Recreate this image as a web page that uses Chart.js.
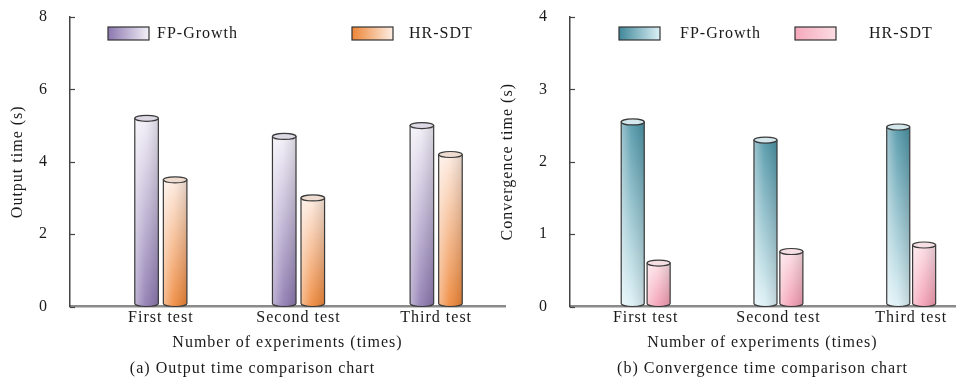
<!DOCTYPE html>
<html>
<head>
<meta charset="utf-8">
<script src="https://cdn.jsdelivr.net/npm/chart.js"></script>
<style>
  html, body { margin: 0; padding: 0; background: #fff; }
  #wrap { position: relative; width: 956px; height: 381px; overflow: hidden; }
  #wrap canvas { position: absolute; top: 0; }
</style>
</head>
<body>
<div id="wrap">
  <canvas id="chart-a" width="520" height="381" style="left:0"></canvas>
  <canvas id="chart-b" width="466" height="381" style="left:490px"></canvas>
</div>
<script>
// DATA
var categories   = ['First test', 'Second test', 'Third test'];
var seriesNames  = ['FP-Growth', 'HR-SDT'];
var outputFP     = [5.2, 4.7, 5.0];    // output time (s)
var outputHR     = [3.5, 3.0, 4.2];
var convFP       = [2.55, 2.3, 2.48];  // convergence time (s)
var convHR       = [0.6, 0.76, 0.85];
var outputTicks  = [0, 2, 4, 6, 8];
var convTicks    = [0, 1, 2, 3, 4];

Chart.defaults.font.family = "'Liberation Serif', 'Times New Roman', serif";
Chart.defaults.color = '#1a1a1a';

// cylinder colours (top of bar -> bottom of bar)
var purple = { top: '#f1eef7', bottom: '#8b77af', cap: '#dcd8e4', dark: '#8b77af', light: '#f3f0f8' };
var orange = { top: '#fdeadf', bottom: '#ee8536', cap: '#efdcd0', dark: '#ee8536', light: '#fdeee4' };
var teal   = { top: '#4b93a5', bottom: '#dcf1f6', cap: '#d3e7ec', dark: '#3f8799', light: '#dcf1f6' };
var pink   = { top: '#fcdde4', bottom: '#f39ab0', cap: '#f6dfe4', dark: '#f5a9bb', light: '#fcdce3' };

function drawCylinder(ctx, el, st){
  var p = el.getProps(['x', 'y', 'base', 'width'], true);
  var rx = p.width / 2, ry = 3;
  var l = p.x - rx, r = p.x + rx;
  var top = Math.min(p.y, p.base), bot = Math.max(p.y, p.base);
  ctx.save();
  ctx.beginPath();
  ctx.moveTo(l, top);
  ctx.lineTo(l, bot - ry);
  ctx.ellipse(p.x, bot - ry, rx, ry, 0, Math.PI, 0, true);
  ctx.lineTo(r, top);
  ctx.closePath();
  var g = ctx.createLinearGradient(0, top, 0, bot);
  g.addColorStop(0, st.top);
  g.addColorStop(1, st.bottom);
  ctx.fillStyle = g;
  ctx.fill();
  // side shading for the round look
  var h = ctx.createLinearGradient(l, 0, r, 0);
  h.addColorStop(0, 'rgba(255,255,255,0.45)');
  h.addColorStop(0.45, 'rgba(255,255,255,0.1)');
  h.addColorStop(1, 'rgba(0,0,0,0.12)');
  ctx.fillStyle = h;
  ctx.fill();
  ctx.strokeStyle = '#3a3a3a';
  ctx.lineWidth = 1.2;
  ctx.stroke();
  // top cap
  ctx.beginPath();
  ctx.ellipse(p.x, top, rx, ry, 0, 0, Math.PI * 2);
  ctx.fillStyle = st.cap;
  ctx.fill();
  ctx.stroke();
  ctx.restore();
}

function cylinderPlugin(styles, legendBox, legendText){
  return {
    id: 'cylinders',
    beforeDraw: function(chart){
      chart.ctx.letterSpacing = '1px';
    },
    afterDatasetsDraw: function(chart){
      var ctx = chart.ctx;
      chart.data.datasets.forEach(function(ds, i){
        chart.getDatasetMeta(i).data.forEach(function(el){
          drawCylinder(ctx, el, styles[i]);
        });
      });
    },
    afterDraw: function(chart){
      var ctx = chart.ctx, area = chart.chartArea, ys = chart.scales.y;
      ctx.save();
      // inward tick marks on the y axis
      ctx.strokeStyle = '#444';
      ctx.lineWidth = 1.2;
      ys.ticks.forEach(function(t){
        var py = Math.round(ys.getPixelForValue(t.value)) + 0.5;
        ctx.beginPath();
        ctx.moveTo(area.left, py);
        ctx.lineTo(area.left + 5, py);
        ctx.stroke();
      });
      // legend inside the plot
      ctx.font = "16px 'Liberation Serif', 'Times New Roman', serif";
      ctx.textBaseline = 'middle';
      ctx.textAlign = 'left';
      chart.data.datasets.forEach(function(ds, i){
        var bx = area.left + legendBox[i], by = area.top + 10;
        var g = ctx.createLinearGradient(bx, 0, bx + 41, 0);
        g.addColorStop(0, styles[i].dark);
        g.addColorStop(1, styles[i].light);
        ctx.fillStyle = g;
        ctx.fillRect(bx, by, 41, 13);
        ctx.strokeStyle = '#333';
        ctx.lineWidth = 1.2;
        ctx.strokeRect(bx, by, 41, 13);
        ctx.fillStyle = '#1a1a1a';
        ctx.fillText(ds.label, area.left + legendText[i], by + 7);
      });
      ctx.restore();
    }
  };
}

function makeChart(id, cfg){
  var ticks = cfg.yTicks;
  return new Chart(document.getElementById(id), {
    type: 'bar',
    data: {
      datasets: [
        { label: seriesNames[0], data: cfg.a.map(function(v, i){ return { x: i + 1, y: v }; }),
          backgroundColor: 'rgba(0,0,0,0)', borderWidth: 0 },
        { label: seriesNames[1], data: cfg.b.map(function(v, i){ return { x: i + 1, y: v }; }),
          backgroundColor: 'rgba(0,0,0,0)', borderWidth: 0 }
      ]
    },
    options: {
      responsive: false,
      animation: false,
      events: [],
      layout: { padding: { top: 17, right: cfg.padRight, left: 0, bottom: 0 } },
      datasets: { bar: { categoryPercentage: cfg.catPct, barPercentage: cfg.barPct } },
      plugins: {
        legend: { display: false },
        tooltip: { enabled: false },
        title: {
          display: true, text: cfg.caption, position: 'bottom', fullSize: cfg.fullTitle,
          font: { size: 16, weight: 'normal' }, color: '#1a1a1a', padding: { top: 6, bottom: 3 }
        }
      },
      scales: {
        x: {
          type: 'linear', min: cfg.xMin, max: cfg.xMax, offset: false,
          grid: { display: false, drawTicks: false, offset: false },
          border: { display: true, color: '#8a8a8a', width: 2.5 },
          ticks: {
            autoSkip: false, maxRotation: 0, minRotation: 0, padding: 2,
            font: { size: 16 }, color: '#1a1a1a',
            callback: function(v){ return categories[v - 1] || ''; }
          },
          title: { display: true, text: 'Number of experiments (times)', font: { size: 16 }, color: '#1a1a1a', padding: { top: 0, bottom: 0 } },
          afterBuildTicks: function(s){ s.ticks = categories.map(function(c, i){ return { value: i + 1 }; }); },
          afterFit: function(s){ s.height = 46.3; }
        },
        y: {
          min: ticks[0], max: ticks[ticks.length - 1],
          grid: { display: false, drawTicks: false },
          border: { display: true, color: '#444', width: 1.5 },
          ticks: { stepSize: ticks[1] - ticks[0], padding: 22, font: { size: 16 }, color: '#1a1a1a' },
          title: { display: true, text: cfg.yTitle, font: { size: 16 }, color: '#1a1a1a', padding: { top: 8.4, bottom: 0 } },
          afterFit: function(s){
            s.width = cfg.yWidth;
            s.paddingTop = 0;     // the big tick padding should not push the plot down
            s.paddingBottom = 0;
          }
        }
      }
    },
    plugins: [cylinderPlugin(cfg.styles, cfg.legendBox, cfg.legendText)]
  });
}

// (a) output time
makeChart('chart-a', {
  a: outputFP, b: outputHR, yTicks: outputTicks,
  yTitle: 'Output time (s)', caption: '(a) Output time comparison chart',
  xMin: 0.34, xMax: 3.5, catPct: 0.415, barPct: 0.825,
  yWidth: 70, padRight: 15, fullTitle: true,
  styles: [purple, orange], legendBox: [38, 282], legendText: [87, 339]
});

// (b) convergence time
makeChart('chart-b', {
  a: convFP, b: convHR, yTicks: convTicks,
  yTitle: 'Convergence time (s)', caption: '(b) Convergence time comparison chart',
  xMin: 0.43, xMax: 3.33, catPct: 0.39, barPct: 0.89,
  yWidth: 80, padRight: 1, fullTitle: false,
  styles: [teal, pink], legendBox: [49, 225], legendText: [110, 299]
});
</script>
</body>
</html>
